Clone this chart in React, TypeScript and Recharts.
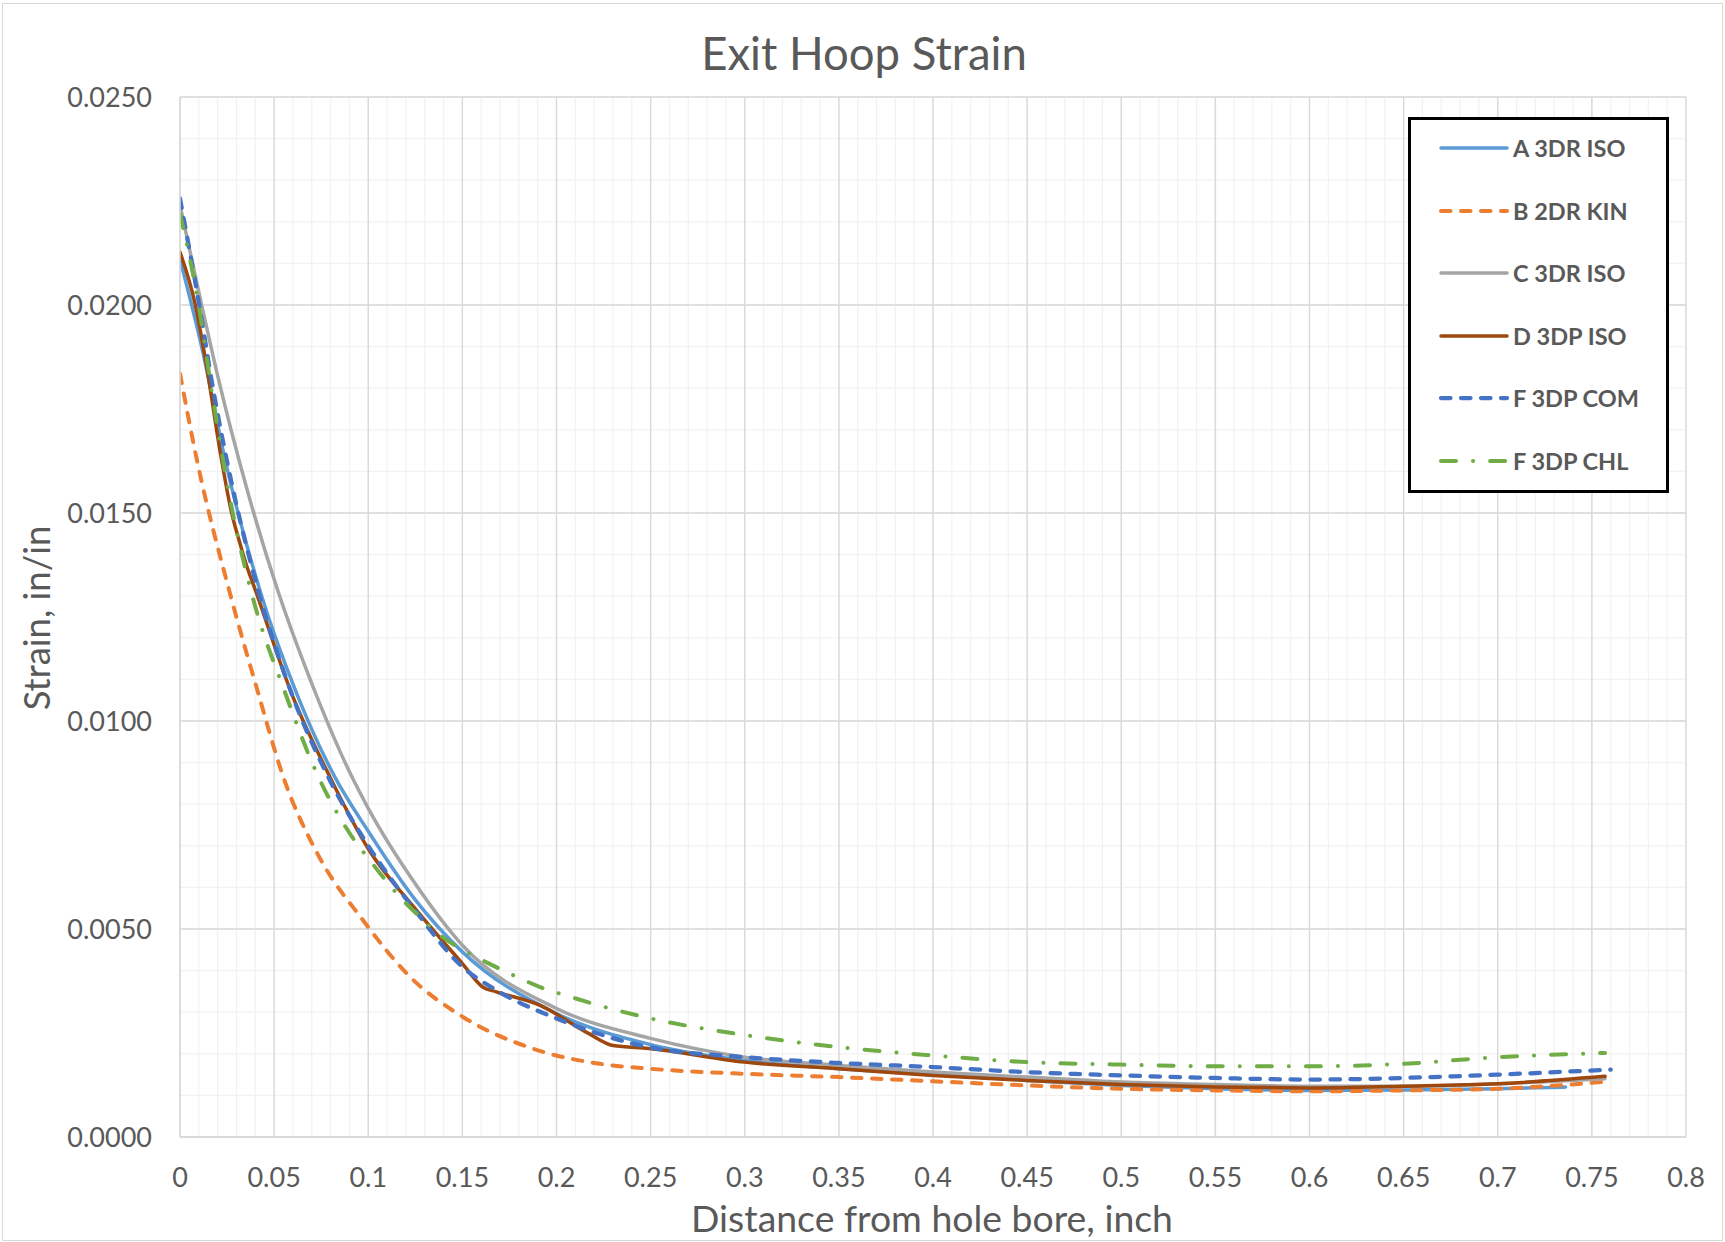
import React from 'react';
import { LineChart, Line, XAxis, YAxis, CartesianGrid } from 'recharts';

const seriesNames = ['A 3DR ISO', 'B 2DR KIN', 'C 3DR ISO', 'D 3DP ISO', 'F 3DP COM', 'F 3DP CHL'];

const aX = [0, 0.012, 0.024, 0.043, 0.062, 0.0823, 0.1, 0.125, 0.15, 0.2, 0.25, 0.3, 0.35, 0.4, 0.45, 0.5, 0.55, 0.6, 0.65, 0.7, 0.736];
const aY = [0.0211, 0.0189, 0.01627, 0.01306, 0.01066, 0.00865, 0.00735, 0.0057, 0.00445, 0.00297, 0.00222, 0.00184, 0.00164, 0.0015, 0.00136, 0.00124, 0.00116, 0.00112, 0.00113, 0.00116, 0.0012];

const bX = [0, 0.009, 0.0266, 0.0416, 0.0549, 0.0735, 0.0974, 0.1222, 0.1505, 0.1877, 0.223, 0.25, 0.3, 0.35, 0.4, 0.45, 0.5, 0.55, 0.6, 0.65, 0.7, 0.755];
const bY = [0.01835, 0.01627, 0.01306, 0.01066, 0.00865, 0.00677, 0.0052, 0.00385, 0.00288, 0.00212, 0.00176, 0.00164, 0.00152, 0.00144, 0.00134, 0.00124, 0.00116, 0.00112, 0.0011, 0.00112, 0.00116, 0.00132];

const cX = [0, 0.0115, 0.02, 0.0354, 0.0522, 0.07, 0.0912, 0.1, 0.1257, 0.15, 0.2, 0.25, 0.3, 0.35, 0.4, 0.45, 0.5, 0.55, 0.6, 0.65, 0.7, 0.757];
const cY = [0.0224, 0.02, 0.0183, 0.0156, 0.0131, 0.0109, 0.00867, 0.0079, 0.00604, 0.00461, 0.00309, 0.00237, 0.00192, 0.00172, 0.00156, 0.00144, 0.00132, 0.00126, 0.00122, 0.00122, 0.00128, 0.0014];

const dX = [0, 0.008, 0.0133, 0.0221, 0.0271, 0.0319, 0.0345, 0.0407, 0.0593, 0.0797, 0.1, 0.1257, 0.15, 0.161, 0.168, 0.191, 0.217, 0.23, 0.249, 0.3, 0.35, 0.4, 0.45, 0.5, 0.55, 0.6, 0.65, 0.7, 0.757];
const dY = [0.02127, 0.02003, 0.01875, 0.01627, 0.01507, 0.01426, 0.01386, 0.01306, 0.01066, 0.00865, 0.00693, 0.00545, 0.00417, 0.0036, 0.00349, 0.00317, 0.00249, 0.0022, 0.00213, 0.0018, 0.00164, 0.00148, 0.00136, 0.00126, 0.0012, 0.00118, 0.00122, 0.00128, 0.00146];

const eX = [0, 0.0101, 0.0177, 0.0283, 0.042, 0.0593, 0.0788, 0.1, 0.1257, 0.15, 0.168, 0.2, 0.249, 0.3, 0.35, 0.4, 0.45, 0.5, 0.55, 0.6, 0.65, 0.7, 0.76];
const eY = [0.02256, 0.02003, 0.01795, 0.01554, 0.01306, 0.01066, 0.00865, 0.007, 0.0054, 0.00409, 0.00353, 0.00285, 0.00216, 0.00192, 0.00178, 0.00168, 0.00156, 0.00148, 0.00142, 0.00138, 0.00142, 0.0015, 0.00162];

const fX = [0, 0.0097, 0.0168, 0.0257, 0.0381, 0.056, 0.0736, 0.0903, 0.1, 0.1181, 0.1284, 0.1399, 0.1523, 0.165, 0.1789, 0.192, 0.2067, 0.2205, 0.247, 0.3, 0.35, 0.4, 0.45, 0.5, 0.55, 0.6, 0.65, 0.7, 0.757];
const fY = [0.0222, 0.02005, 0.01795, 0.01554, 0.01306, 0.01066, 0.00865, 0.00729, 0.0067, 0.00571, 0.00525, 0.00479, 0.00445, 0.00415, 0.00385, 0.00359, 0.00338, 0.00319, 0.00288, 0.00245, 0.00216, 0.00196, 0.0018, 0.00174, 0.0017, 0.0017, 0.00176, 0.00192, 0.00202];

const xTicks = [0, 0.05, 0.1, 0.15, 0.2, 0.25, 0.3, 0.35, 0.4, 0.45, 0.5, 0.55, 0.6, 0.65, 0.7, 0.75, 0.8];
const yTicks = [0, 0.005, 0.01, 0.015, 0.02, 0.025];
const xMinor = Array.from({ length: 81 }, (_, i) => i / 100);
const yMinor = Array.from({ length: 26 }, (_, i) => i / 1000);

const toPoints = (xs: number[], ys: number[]) => xs.map((x, i) => ({ x, y: ys[i] }));

const styles = [
  { color: '#5B9BD5', width: 3.5, dash: undefined as string | undefined },
  { color: '#ED7D31', width: 4, dash: '9.5 10.5' },
  { color: '#A5A5A5', width: 3.5, dash: undefined },
  { color: '#9E480E', width: 3.5, dash: undefined },
  { color: '#4472C4', width: 4.25, dash: '9.5 10.5' },
  { color: '#70AD47', width: 4, dash: '15 17 0.1 17' },
];

const seriesData = [
  toPoints(aX, aY),
  toPoints(bX, bY),
  toPoints(cX, cY),
  toPoints(dX, dY),
  toPoints(eX, eY),
  toPoints(fX, fY),
];

const FONT = 'Lato, "Open Sans", sans-serif';
const TXT = '#595959';

export default function App() {
  return (
    <div style={{ position: 'absolute', left: 0, top: 0, width: 1725, height: 1242, background: '#fff' }}>
      <div style={{ position: 'absolute', left: 2, top: 3, width: 1719, height: 1236, border: '1px solid #D9D9D9' }} />
      <LineChart width={1725} height={1242} margin={{ top: 97, right: 39, bottom: 45, left: 60 }}>
        <CartesianGrid stroke="#F2F2F2" strokeWidth={1.2} verticalValues={xMinor} horizontalValues={yMinor} />
        <CartesianGrid stroke="#D9D9D9" strokeWidth={1.4} verticalValues={xTicks} horizontalValues={yTicks} />
        <XAxis
          type="number"
          dataKey="x"
          domain={[0, 0.8]}
          ticks={xTicks}
          interval={0}
          height={60}
          tickSize={0}
          tickMargin={31}
          axisLine={{ stroke: '#D9D9D9', strokeWidth: 1.5 }}
          tick={{ fill: TXT, fontSize: 27, fontFamily: FONT }}
          tickFormatter={(v: number) => String(v)}
          allowDataOverflow
        />
        <YAxis
          type="number"
          domain={[0, 0.025]}
          ticks={yTicks}
          interval={0}
          width={120}
          tickSize={0}
          tickMargin={28}
          axisLine={{ stroke: '#D9D9D9', strokeWidth: 1.5 }}
          tick={{ fill: TXT, fontSize: 27, fontFamily: FONT }}
          tickFormatter={(v: number) => v.toFixed(4)}
          allowDataOverflow
        />
        {seriesData.map((d, i) => (
          <Line
            key={seriesNames[i] + i}
            data={d}
            dataKey="y"
            name={seriesNames[i]}
            type="monotone"
            stroke={styles[i].color}
            strokeWidth={styles[i].width}
            strokeDasharray={styles[i].dash}
            strokeLinecap="round"
            dot={false}
            activeDot={false}
            isAnimationActive={false}
          />
        ))}
      </LineChart>
      <svg width={1725} height={1242} style={{ position: 'absolute', left: 0, top: 0, pointerEvents: 'none' }}>
        <text x={864} y={70} textAnchor="middle" fontSize={45.5} fontFamily={FONT} fill={TXT}>Exit Hoop Strain</text>
        <text x={932} y={1232} textAnchor="middle" fontSize={37.4} fontFamily={FONT} fill={TXT}>Distance from hole bore, inch</text>
        <text x={50} y={618} textAnchor="middle" fontSize={36.5} fontFamily={FONT} fill={TXT} transform="rotate(-90 50 618)">Strain, in/in</text>
      </svg>
      <div style={{ position: 'absolute', left: 1408, top: 117, width: 255, height: 370, border: '3px solid #000', background: '#fff' }}>
        {seriesNames.map((n, i) => (
          <div key={n + i} style={{ position: 'absolute', left: 27, top: 13 + i * 62.6, height: 30, display: 'flex', alignItems: 'center' }}>
            <svg width={72} height={10} style={{ display: 'block' }}>
              <line x1={3} y1={5} x2={69} y2={5} stroke={styles[i].color} strokeWidth={styles[i].width} strokeDasharray={styles[i].dash} strokeLinecap="round" />
            </svg>
            <span style={{ marginLeft: 3, fontFamily: FONT, fontWeight: 700, fontSize: 23.5, color: TXT, whiteSpace: 'nowrap' }}>{n}</span>
          </div>
        ))}
      </div>
    </div>
  );
}
